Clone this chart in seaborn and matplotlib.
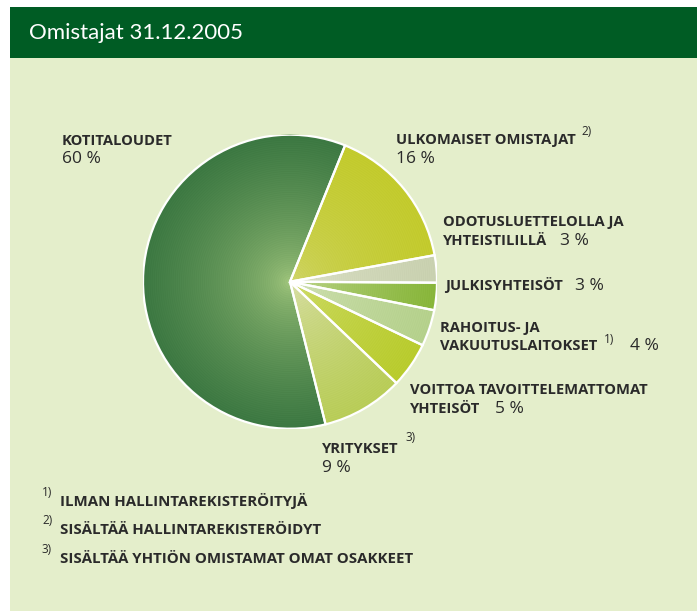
import numpy as np
import matplotlib
matplotlib.use("Agg")
import matplotlib.pyplot as plt
import matplotlib.patches as mpatches
from matplotlib.colors import to_rgb
import seaborn as sns

# ---------------- data ----------------
title = "Omistajat 31.12.2005"
categories = ["KOTITALOUDET", "ULKOMAISET OMISTAJAT", "ODOTUSLUETTELOLLA JA YHTEISTILILLÄ",
              "JULKISYHTEISÖT", "RAHOITUS- JA VAKUUTUSLAITOKSET",
              "VOITTOA TAVOITTELEMATTOMAT YHTEISÖT", "YRITYKSET"]
shares = [60, 16, 3, 3, 4, 5, 9]
footnote_refs = ["", "2)", "", "", "1)", "", "3)"]
footnotes = ["ILMAN HALLINTAREKISTERÖITYJÄ",
             "SISÄLTÄÄ HALLINTAREKISTERÖIDYT",
             "SISÄLTÄÄ YHTIÖN OMISTAMAT OMAT OSAKKEET"]
footnote_marks = ["1)", "2)", "3)"]

# (centre colour, edge colour, shading exponent) of each slice's radial shading
center_colors = ["#aacd82", "#d6d98a", "#e1e5cd", "#d0e0aa", "#d8e5bf", "#d6e17e", "#dfe3b8"]
edge_colors = ["#3c7842", "#c3cb2d", "#c9d1b0", "#88b63a", "#b5d18c", "#b9cc2e", "#b9cd58"]
shade_exp = [0.55, 0.3, 0.5, 0.5, 0.5, 0.45, 0.5]

# ---------------- layout ----------------
W, H = 697, 611
sns.set_theme(style="white")
plt.rcParams["font.family"] = ["Open Sans", "DejaVu Sans"]
TXT = "#2a2a2a"

fig = plt.figure(figsize=(W / 100, H / 100), dpi=100)
fig.patch.set_facecolor("white")


def fx(x):
    return x / W


def fy(y):
    return 1 - y / H


# background panels
fig.patches.append(mpatches.Rectangle((fx(10), 0), 1 - fx(10), fy(58), transform=fig.transFigure,
                                      facecolor="#e4eecb", edgecolor="none", zorder=-5))
fig.patches.append(mpatches.Rectangle((fx(10), fy(58)), 1 - fx(10), fy(7) - fy(58),
                                      transform=fig.transFigure, facecolor="#005c24",
                                      edgecolor="none", zorder=-5))
fig.text(fx(29), fy(33), title, color="white", fontsize=16, family=["Lato", "DejaVu Sans"],
         fontweight="normal", va="center", ha="left", zorder=5)

# pie axes
cx, cy, r = 290, 281.7, 147
ax = fig.add_axes([fx(cx - r), fy(cy + r), 2 * r / W, 2 * r / H])
ax.set_facecolor("none")
start = 68 + 360 * shares[0] / 100
wedges, _ = ax.pie(shares, startangle=start, counterclock=False, radius=1,
                   colors=edge_colors, wedgeprops=dict(linewidth=0))
ax.axis("off")

n = 600
g = np.linspace(-1, 1, n)
X, Y = np.meshgrid(g, g)
R = np.sqrt(X ** 2 + Y ** 2)
for w, c0, c1, p in zip(wedges, center_colors, edge_colors, shade_exp):
    c0 = np.array(to_rgb(c0))
    c1 = np.array(to_rgb(c1))
    t = np.clip(R, 0, 1) ** p
    ring = 0.012 * np.sin(R * 2 * np.pi * 70)
    img = c0[None, None, :] * (1 - t[..., None]) + c1[None, None, :] * t[..., None]
    img = np.clip(img + ring[..., None], 0, 1)
    im = ax.imshow(img, extent=(-1, 1, -1, 1), origin="lower", zorder=2, interpolation="bilinear")
    im.set_clip_path(w)

for w in wedges:
    ax.add_patch(mpatches.Wedge(w.center, w.r, w.theta1, w.theta2, facecolor="none",
                                edgecolor="white", linewidth=1.6, zorder=3))
ax.set_xlim(-1, 1)
ax.set_ylim(-1, 1)
ax.set_aspect("equal")

# ---------------- labels ----------------
LFS = 10.6   # bold caps
PFS = 12.5   # percentages
SFS = 8.5    # superscripts


def lab(x, y, s, fs=LFS):
    fig.text(fx(x), fy(y), s, color=TXT, fontsize=fs, fontweight="bold", va="baseline",
             ha="left")


def pct(x, y, v):
    fig.text(fx(x), fy(y), f"{v} %", color=TXT, fontsize=PFS, va="baseline", ha="left")


def sup(x, y, s):
    fig.text(fx(x), fy(y), s, color=TXT, fontsize=SFS, va="baseline", ha="left")


lab(62, 145, categories[0]); pct(62, 162.7, shares[0])
lab(396, 144, categories[1]); sup(581, 135, footnote_refs[1]); pct(396, 162.7, shares[1])
lab(443, 226, "ODOTUSLUETTELOLLA JA"); lab(443, 245, "YHTEISTILILLÄ"); pct(560, 245, shares[2])
lab(445, 290, categories[3]); pct(575, 290, shares[3])
lab(440, 331.7, "RAHOITUS- JA"); lab(440, 350, "VAKUUTUSLAITOKSET")
sup(604, 343, footnote_refs[4]); pct(630, 350, shares[4])
lab(410, 394, "VOITTOA TAVOITTELEMATTOMAT"); lab(410, 412.7, "YHTEISÖT"); pct(495, 412.7, shares[5])
lab(322, 452.7, categories[6]); sup(405, 441, footnote_refs[6]); pct(322, 471.7, shares[6])

# footnotes
for i, (m, s) in enumerate(zip(footnote_marks, footnotes)):
    base = [506, 534, 562.7][i]
    sup(42, base - 10, m)
    lab(60, base, s, fs=10.8)

fig.savefig("out.png", dpi=100, facecolor=fig.get_facecolor())
